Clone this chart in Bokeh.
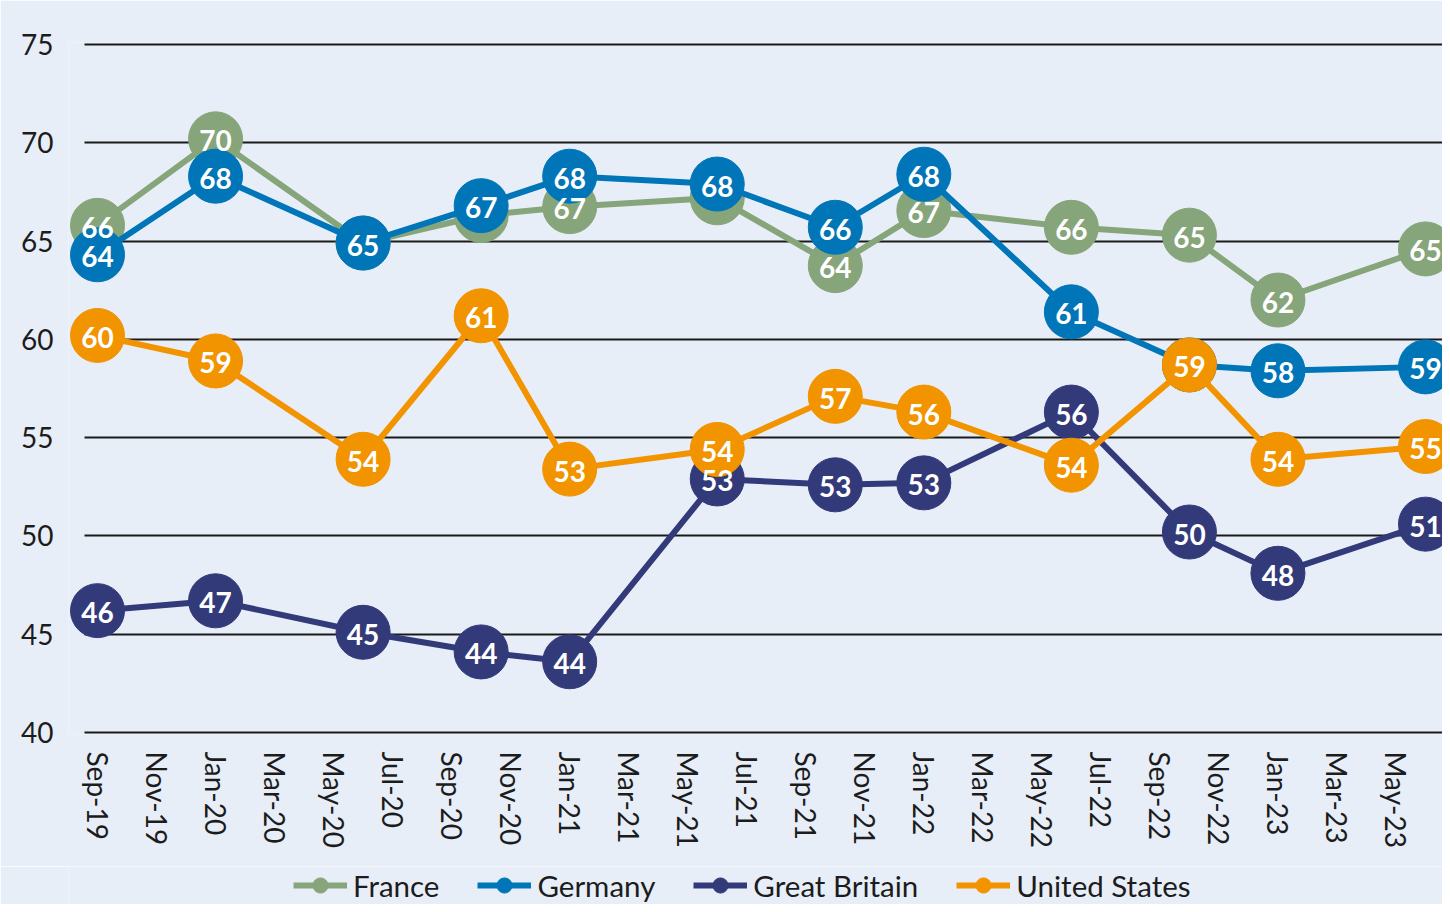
import numpy as np
import pandas as pd
from bokeh.plotting import figure
from bokeh.layouts import column
from bokeh.models import Range1d, FixedTicker, Legend, LegendItem
from bokeh.core.properties import value
from bokeh.embed import file_html
from bokeh.resources import INLINE

# ---------------- data ----------------
survey_dates = ["Sep-19", "Jan-20", "Jun-20", "Oct-20", "Jan-21", "Jun-21",
                "Oct-21", "Jan-22", "Jun-22", "Oct-22", "Jan-23", "Jun-23"]
tick_labels = ["Sep-19", "Nov-19", "Jan-20", "Mar-20", "May-20", "Jul-20",
               "Sep-20", "Nov-20", "Jan-21", "Mar-21", "May-21", "Jul-21",
               "Sep-21", "Nov-21", "Jan-22", "Mar-22", "May-22", "Jul-22",
               "Sep-22", "Nov-22", "Jan-23", "Mar-23", "May-23"]
y_ticks = [40, 45, 50, 55, 60, 65, 70, 75]

series_names = ["France", "Germany", "Great Britain", "United States"]
france = [65.8, 70.2, 64.9, 66.3, 66.75, 67.2, 63.75, 66.55, 65.7, 65.3, 62.0, 64.6]
germany = [64.3, 68.3, 64.9, 66.8, 68.3, 67.9, 65.7, 68.4, 61.4, 58.7, 58.4, 58.6]
great_britain = [46.2, 46.7, 45.1, 44.1, 43.6, 52.9, 52.6, 52.7, 56.3, 50.2, 48.1, 50.6]
united_states = [60.2, 58.9, 53.9, 61.2, 53.4, 54.4, 57.1, 56.3, 53.6, 58.7, 53.9, 54.55]

# which data labels are displayed (some were removed in the original)
france_shown = [1, 1, 0, 0, 1, 0, 1, 1, 1, 1, 1, 1]
germany_shown = [1, 1, 1, 1, 1, 1, 1, 1, 1, 0, 1, 1]
great_britain_shown = [1] * 12
united_states_shown = [1] * 12

colors = ["#86A57A", "#0076B8", "#333A7A", "#F29300"]

# ---------------- helpers ----------------
base = pd.to_datetime(survey_dates[0], format="%b-%y")


def month_index(lbl):
    ts = pd.to_datetime(lbl, format="%b-%y")
    return (ts.year - base.year) * 12 + (ts.month - base.month)


x_vals = [month_index(d) for d in survey_dates]
tick_pos = [month_index(t) for t in tick_labels]

FONT = "Lato"
BG = "#E8EEF8"
TXT = "#1c1c1c"

p = figure(width=1442, height=866, output_backend="svg", toolbar_location=None,
           x_range=Range1d(-0.983, 45.576), y_range=Range1d(39.9, 75.1),
           background_fill_color=BG, border_fill_color=BG,
           min_border_left=68, min_border_right=0, min_border_top=42,
           min_border_bottom=132)
p.outline_line_color = None

# axes
p.xaxis.ticker = FixedTicker(ticks=tick_pos)
p.xaxis.major_label_overrides = {t: l for t, l in zip(tick_pos, tick_labels)}
p.xaxis.major_label_orientation = "vertical"
p.xaxis.major_label_standoff = 11
p.xaxis.major_tick_line_color = None
p.xaxis.minor_tick_line_color = None
p.xaxis.axis_line_color = None
p.xaxis.major_label_text_font = FONT
p.xaxis.major_label_text_font_size = "28px"
p.xaxis.major_label_text_color = TXT

p.yaxis.ticker = FixedTicker(ticks=y_ticks)
p.yaxis.major_label_standoff = 9
p.yaxis.major_tick_line_color = None
p.yaxis.minor_tick_line_color = None
p.yaxis.axis_line_color = None
p.yaxis.major_label_text_font = FONT
p.yaxis.major_label_text_font_size = "28px"
p.yaxis.major_label_text_color = TXT

p.xgrid.grid_line_color = None
p.ygrid.grid_line_color = "#1a1a1a"
p.ygrid.grid_line_width = 2
p.ygrid.cross_bounds = (-0.44, 45.576)

all_series = [france, germany, great_britain, united_states]
all_shown = [france_shown, germany_shown, great_britain_shown, united_states_shown]

for name, vals, col in zip(series_names, all_series, colors):
    p.line(x_vals, vals, line_color=col, line_width=6)
    p.scatter(x_vals, vals, size=54, fill_color=col, line_color=col)

# data labels on top of everything
for vals, shown in zip(all_series, all_shown):
    xs = [x for x, s in zip(x_vals, shown) if s]
    ys = [v for v, s in zip(vals, shown) if s]
    txt = [str(int(np.floor(v + 0.5))) for v, s in zip(vals, shown) if s]
    p.text(xs, ys, text=txt, text_color="white", text_font=value(FONT),
           text_font_style="bold", text_font_size="28px", text_align="center",
           text_baseline="middle", y_offset=2)

# ---------------- legend strip ----------------
# the series are drawn again here (outside the visible range) only so that the
# legend has glyphs to show
leg = figure(width=1442, height=38, output_backend="svg", toolbar_location=None,
             x_range=Range1d(0, 1), y_range=Range1d(0, 1),
             x_axis_location=None, y_axis_location=None,
             background_fill_color=BG, border_fill_color=BG,
             min_border_left=0, min_border_right=0, min_border_top=0,
             min_border_bottom=0)
leg.outline_line_color = None
leg.grid.visible = False

items = []
for name, vals, col in zip(series_names, all_series, colors):
    ln = leg.line(x_vals, vals, line_color=col, line_width=6)
    sc = leg.scatter(x_vals, vals, size=16, fill_color=col, line_color=col)
    items.append(LegendItem(label=name, renderers=[ln, sc]))

legend = Legend(items=items, orientation="horizontal", location=(225, 0),
                glyph_width=54, glyph_height=38, label_standoff=6, spacing=38,
                padding=0, margin=0, border_line_color=None,
                background_fill_alpha=0,
                label_text_font=FONT, label_text_font_size="29.5px",
                label_text_color=TXT)
leg.add_layout(legend, "center")

layout = column(p, leg, spacing=0)
open("out.html", "w").write(file_html(layout, INLINE))
